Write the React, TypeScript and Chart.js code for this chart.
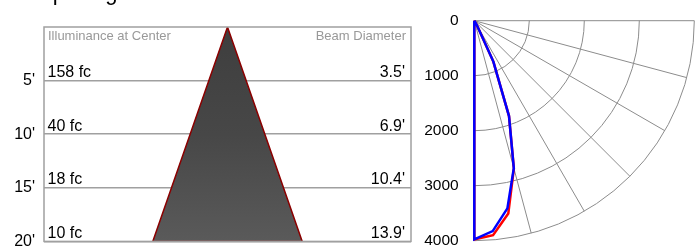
import React, { useEffect, useRef } from "react";
import { Chart, registerables } from "chart.js";
Chart.register(...registerables);

// ---- data ----
const depthsFt = [5, 10, 15, 20];
const depthTickLabels = ["5'", "10'", "15'", "20'"];
const illuminanceFc = [158, 40, 18, 10];
const beamDiameterFt = [3.5, 6.9, 10.4, 13.9];

const candelaAngles = [0, 5, 10, 15, 20, 25, 30, 35, 90];
const candelaBlue = [3975, 3840, 3465, 2775, 1845, 820, 100, 0, 0];
const candelaRed = [3975, 3915, 3560, 2780, 1845, 820, 100, 0, 0];
const candelaRings = [1000, 2000, 3000, 4000];
const candelaTicks = [0, 1000, 2000, 3000, 4000];
const gridAngles = [0, 15, 30, 45, 60, 75, 90];

const FONT = "'Liberation Sans', Arial, sans-serif";
const CANVAS_H = 260;

function polarPoints(angles: number[], values: number[]) {
  const pts = [{ x: 0, y: 0 }];
  angles.forEach((a, i) => {
    const t = (a * Math.PI) / 180;
    pts.push({ x: values[i] * Math.sin(t), y: values[i] * Math.cos(t) });
  });
  return pts;
}

function LeftChart() {
  const ref = useRef<HTMLCanvasElement>(null);
  useEffect(() => {
    const last = depthsFt.length - 1;
    const halfW = beamDiameterFt[last] / 2;
    const maxD = depthsFt[last];
    const labelsPlugin = {
      id: "labels",
      afterDraw(chart: any) {
        const { ctx, chartArea } = chart;
        const ys = chart.scales.y;
        ctx.save();
        ctx.strokeStyle = "#a0a0a0";
        ctx.lineWidth = 1.5;
        ctx.strokeRect(chartArea.left, chartArea.top, chartArea.right - chartArea.left, chartArea.bottom - chartArea.top);
        ctx.textBaseline = "alphabetic";
        ctx.font = `13px ${FONT}`;
        ctx.fillStyle = "#999";
        ctx.textAlign = "left";
        ctx.fillText("Illuminance at Center", chartArea.left + 4, chartArea.top + 13);
        ctx.textAlign = "right";
        ctx.fillText("Beam Diameter", chartArea.right - 5, chartArea.top + 13);
        ctx.font = `16px ${FONT}`;
        ctx.fillStyle = "#000";
        depthsFt.forEach((d, i) => {
          const y = ys.getPixelForValue(d) - 3.5;
          ctx.textAlign = "left";
          ctx.fillText(`${illuminanceFc[i]} fc`, chartArea.left + 3.5, y);
          ctx.textAlign = "right";
          ctx.fillText(`${beamDiameterFt[i]}'`, chartArea.right - 6, y);
        });
        ctx.font = `22px ${FONT}`;
        ctx.textAlign = "left";
        ctx.fillText("Spacing", 38, 0);
        ctx.restore();
      },
    };
    const chart = new Chart(ref.current!, {
      type: "scatter",
      data: {
        datasets: [
          {
            data: [
              { x: 0, y: 0 },
              { x: -halfW, y: maxD },
              { x: halfW, y: maxD },
              { x: 0, y: 0 },
            ],
            showLine: true,
            fill: "shape",
            pointRadius: 0,
            borderColor: "#8b0000",
            borderWidth: 1.5,
            backgroundColor: (c: any) => {
              const ca = c.chart.chartArea;
              if (!ca) return "#464646";
              const g = c.chart.ctx.createLinearGradient(0, ca.top, 0, ca.bottom);
              g.addColorStop(0, "#3e3e3e");
              g.addColorStop(0.5, "#474747");
              g.addColorStop(1, "#5a5a5a");
              return g;
            },
          } as any,
        ],
      },
      options: {
        animation: false,
        responsive: false,
        devicePixelRatio: 1,
        layout: { padding: { top: 27, right: 9, bottom: CANVAS_H - 242, left: 0 } },
        plugins: { legend: { display: false }, tooltip: { enabled: false } },
        scales: {
          x: { type: "linear", min: -17.07, max: 17.07, display: false },
          y: {
            type: "linear",
            min: 0,
            max: 20,
            reverse: true,
            z: 1,
            afterFit: (s: any) => {
              s.width = 44;
            },
            afterBuildTicks: (s: any) => {
              s.ticks = depthsFt.map((v) => ({ value: v }));
            },
            ticks: {
              callback: (v: any) => {
                const i = depthsFt.indexOf(Number(v));
                return i >= 0 ? depthTickLabels[i] : "";
              },
              font: { size: 16, family: FONT },
              color: "#000",
              padding: 9,
            },
            grid: { color: "#a0a0a0", lineWidth: 1.5, drawTicks: false },
            border: { display: false },
          },
        },
      } as any,
      plugins: [labelsPlugin],
    });
    return () => chart.destroy();
  }, []);
  return <canvas ref={ref} width={420} height={CANVAS_H} style={{ position: "absolute", left: 0, top: 0 }} />;
}

function RightChart() {
  const ref = useRef<HTMLCanvasElement>(null);
  useEffect(() => {
    const gridPlugin = {
      id: "polarGrid",
      beforeDatasetsDraw(chart: any) {
        const { ctx } = chart;
        const xs = chart.scales.x;
        const ys = chart.scales.y;
        const ox = xs.getPixelForValue(0);
        const oy = ys.getPixelForValue(0);
        ctx.save();
        ctx.strokeStyle = "#8c8c8c";
        ctx.lineWidth = 1;
        candelaRings.forEach((r) => {
          const R = xs.getPixelForValue(r) - ox;
          ctx.beginPath();
          ctx.arc(ox, oy, R, 0, Math.PI / 2);
          ctx.stroke();
        });
        const Rmax = xs.getPixelForValue(candelaRings[candelaRings.length - 1]) - ox;
        gridAngles.forEach((a) => {
          const t = (a * Math.PI) / 180;
          ctx.beginPath();
          ctx.moveTo(ox, oy);
          ctx.lineTo(ox + Rmax * Math.sin(t), oy + Rmax * Math.cos(t));
          ctx.stroke();
        });
        ctx.restore();
      },
    };
    const chart = new Chart(ref.current!, {
      type: "scatter",
      data: {
        datasets: [
          {
            data: polarPoints(candelaAngles, candelaBlue),
            showLine: true,
            pointRadius: 0,
            borderColor: "#0000ff",
            borderWidth: 2.5,
            clip: false,
            tension: 0,
          } as any,
          {
            data: polarPoints(candelaAngles, candelaRed),
            showLine: true,
            pointRadius: 0,
            borderColor: "#ff0000",
            borderWidth: 2.5,
            clip: false,
            tension: 0,
          } as any,
        ],
      },
      options: {
        animation: false,
        responsive: false,
        devicePixelRatio: 1,
        layout: { padding: { top: 20.7, right: 1.7, bottom: CANVAS_H - 240.7, left: 0 } },
        plugins: { legend: { display: false }, tooltip: { enabled: false } },
        scales: {
          x: { type: "linear", min: 0, max: 4000, display: false },
          y: {
            type: "linear",
            min: 0,
            max: 4000,
            reverse: true,
            afterFit: (s: any) => {
              s.width = 54.3;
            },
            afterBuildTicks: (s: any) => {
              s.ticks = candelaTicks.map((v) => ({ value: v }));
            },
            ticks: {
              callback: (v: any) => String(v),
              font: { size: 15.5, family: FONT },
              color: "#000",
              padding: 7.6,
            },
            grid: { display: false },
            border: { display: false },
          },
        },
      } as any,
      plugins: [gridPlugin],
    });
    return () => chart.destroy();
  }, []);
  return <canvas ref={ref} width={276} height={CANVAS_H} style={{ position: "absolute", left: 420, top: 0 }} />;
}

export default function App() {
  return (
    <div style={{ position: "absolute", left: 0, top: 0, width: 696, height: 246, overflow: "hidden", background: "#fff" }}>
      <LeftChart />
      <RightChart />
    </div>
  );
}
